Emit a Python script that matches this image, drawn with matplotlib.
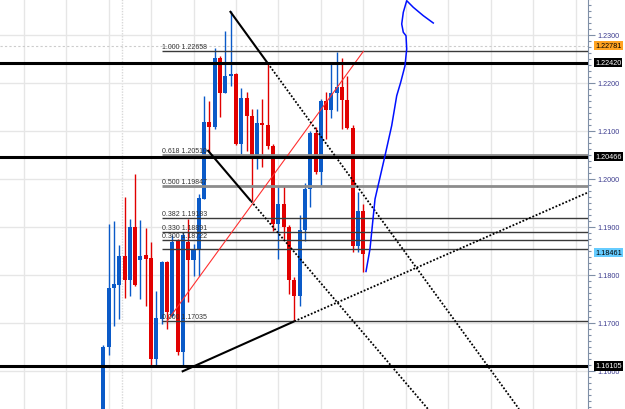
import matplotlib
matplotlib.use("Agg")
import matplotlib.pyplot as plt
from matplotlib.ticker import MultipleLocator, FormatStrFormatter
import matplotlib.transforms as mtransforms

plt.rcParams['font.family'] = ['Liberation Sans', 'DejaVu Sans']

# daily candles, oldest first
opens = [1.14800, 1.16494, 1.17723, 1.17792, 1.18390, 1.17902, 1.19006, 1.18319, 1.18410, 1.18354,
         1.16250, 1.17083, 1.18265, 1.17152, 1.18700, 1.16396, 1.18688, 1.18312, 1.18542, 1.19583,
         1.21194, 1.21077, 1.22515, 1.21785, 1.22140, 1.22188, 1.20729, 1.21681, 1.21319, 1.20473,
         1.21167, 1.21125, 1.20681, 1.19063, 1.19479, 1.18994, 1.17902, 1.17569, 1.18944, 1.19792,
         1.20952, 1.20140, 1.21619, 1.21437, 1.21792, 1.21910, 1.21652, 1.21069, 1.18598, 1.19327]
highs = [1.16548, 1.19063, 1.19131, 1.18625, 1.19619, 1.19167, 1.20104, 1.19146, 1.18979, 1.18688,
         1.17667, 1.18292, 1.18292, 1.18833, 1.18740, 1.18896, 1.19167, 1.18646, 1.19688, 1.21735,
         1.21631, 1.22723, 1.22569, 1.23090, 1.23506, 1.22200, 1.21890, 1.21806, 1.21458, 1.21458,
         1.21667, 1.22396, 1.20729, 1.19860, 1.19860, 1.19042, 1.17958, 1.19250, 1.19917, 1.21000,
         1.21077, 1.21667, 1.21806, 1.22396, 1.22652, 1.22521, 1.22152, 1.21125, 1.19723, 1.19479]
lows = [1.14700, 1.16333, 1.16931, 1.17083, 1.17515, 1.17569, 1.17777, 1.17500, 1.17360, 1.16110,
        1.16110, 1.16979, 1.16875, 1.17125, 1.16333, 1.16110, 1.17437, 1.17979, 1.17979, 1.19583,
        1.20556, 1.21042, 1.21285, 1.21785, 1.21938, 1.20700, 1.20521, 1.20590, 1.19542, 1.20208,
        1.20250, 1.20625, 1.18923, 1.18333, 1.18750, 1.17604, 1.17035, 1.17360, 1.18715, 1.19410,
        1.20104, 1.19860, 1.20833, 1.21265, 1.21423, 1.21042, 1.21042, 1.18473, 1.18473, 1.18056]
closes = [1.16500, 1.17729, 1.17812, 1.18390, 1.17902, 1.19006, 1.17792, 1.18402, 1.18340, 1.16250,
          1.17098, 1.18265, 1.17223, 1.18681, 1.16396, 1.18833, 1.18312, 1.18542, 1.19598, 1.21194,
          1.21077, 1.22515, 1.21785, 1.22140, 1.22188, 1.20729, 1.21681, 1.21319, 1.20473, 1.21167,
          1.21125, 1.20681, 1.19063, 1.19479, 1.18994, 1.17902, 1.17569, 1.18944, 1.19792, 1.20952,
          1.20140, 1.21619, 1.21437, 1.21792, 1.21910, 1.21652, 1.21069, 1.18598, 1.19327, 1.18437]

# fibonacci retracement
fib_ratios = ["1.000", "0.618", "0.500", "0.382", "0.330", "0.300", "", "0.000"]
fib_prices = [1.22658, 1.20510, 1.19847, 1.19183, 1.18891, 1.18722, 1.18542, 1.17035]
fib_start = 11

# horizontal support / resistance
levels = [1.22420, 1.20466, 1.16105]

# trend lines (candle index, price)
tl1_x = [23.85, 31.0, 78.35]
tl1_y = [1.23500, 1.22410, 1.15208]
tl2_x = [19.64, 27.84, 61.19]
tl2_y = [1.20604, 1.19538, 1.15208]
tl3_x = [14.78, 36.0, 91.35]
tl3_y = [1.15985, 1.17035, 1.19720]
fib_line_x = [12, 49]
fib_line_y = [1.17035, 1.22658]

# hand drawn arrow
pen_x = [49.51, 50.26, 51.21, 53.09, 54.35, 55.30, 56.05, 56.86, 57.18, 57.05,
         56.54, 56.24, 56.54, 57.18, 58.42, 60.31, 62.19]
pen_y = [1.18073, 1.18542, 1.19583, 1.20485, 1.21110, 1.21735, 1.22015, 1.22360, 1.22708, 1.22985,
         1.23056, 1.23229, 1.23473, 1.23715, 1.23577, 1.23402, 1.23250]

blue = "#0a5ac8"
red = "#e10000"

fig = plt.figure(figsize=(6.25, 4.10), dpi=100)
ax = fig.add_axes([0, 0, 588 / 625, 1])
ax.set_xlim(-19.47, 91.35)
ax.set_ylim(1.15208, 1.2375)

# grid
for gx in range(-15, 92, 8):
    ax.axvline(gx, color="#e6e6e6", lw=1, zorder=0)
ax.axvline(3.5, color="#d8d8d8", lw=1, ls=(0, (1, 1)), zorder=0)
for gy in [1.16, 1.17, 1.18, 1.19, 1.20, 1.21, 1.22, 1.23]:
    ax.axhline(gy, color="#e6e6e6", lw=1, zorder=0)
ax.axhline(1.22781, color="#cccccc", lw=0.8, ls=(0, (2, 2)), zorder=0)

# candles
for i in range(len(opens)):
    c = blue if closes[i] >= opens[i] else red
    ax.vlines(i, lows[i], highs[i], color=c, lw=1, zorder=2)
    h = max(abs(closes[i] - opens[i]), 0.0002)
    ax.bar(i, h, bottom=min(opens[i], closes[i]), width=0.76, color=c, lw=0, zorder=3)

# fib levels
for r, p in zip(fib_ratios, fib_prices):
    if r in ("0.618", "0.500"):
        ax.hlines(p, fib_start, 91.35, color="#8c8c8c", lw=2, zorder=4)
    else:
        ax.hlines(p, fib_start, 91.35, color="#3a3a3a", lw=1, zorder=4)
    if r:
        ax.text(fib_start + 0.1, p + 0.0002, r + " " + "%.5f" % p, fontsize=5,
                color="#333333", ha="left", va="bottom", zorder=5)
ax.plot(fib_line_x, fib_line_y, color="#ff3030", lw=0.8, zorder=4)

for p in levels:
    ax.axhline(p, color="black", lw=2.2, zorder=5)

# trend lines: solid part then dotted extension
for xs, ys in [(tl1_x, tl1_y), (tl2_x, tl2_y), (tl3_x, tl3_y)]:
    ax.plot(xs[:2], ys[:2], color="black", lw=1.5, zorder=6, solid_capstyle="butt")
    ax.plot(xs[1:], ys[1:], color="black", lw=1.3, ls=(0, (1, 1)), zorder=6)

ax.plot(pen_x, pen_y, color="#0010ff", lw=1.1, zorder=7)

# right price axis
ax.yaxis.tick_right()
ax.set_yticks([1.16, 1.17, 1.18, 1.19, 1.20, 1.21, 1.22, 1.23])
ax.yaxis.set_major_formatter(FormatStrFormatter("%.4f"))
ax.yaxis.set_minor_locator(MultipleLocator(0.00125))
ax.tick_params(axis="y", which="major", length=5, width=0.8, color="#7f8fa6",
               labelsize=5.2, labelcolor="#3d3d8f", pad=1.5)
ax.tick_params(axis="y", which="minor", length=2.5, width=0.8, color="#7f8fa6")
ax.set_xticks([])
for s in ["left", "top", "bottom"]:
    ax.spines[s].set_visible(False)
ax.spines["right"].set_color("#7f8fa6")

trans = mtransforms.blended_transform_factory(ax.transAxes, ax.transData)
tags = [(1.22781, "#ffa321", "black"), (1.22420, "black", "white"),
        (1.20466, "black", "white"), (1.18461, "#66ccff", "black"),
        (1.16105, "black", "white")]
for p, bg, fg in tags:
    ax.text(1.012, p, "%.5f" % p, transform=trans, fontsize=5.2, color=fg,
            ha="left", va="center", zorder=10, clip_on=False,
            bbox=dict(boxstyle="square,pad=0.15", fc=bg, ec="none"))

fig.savefig("out.png", dpi=100)
